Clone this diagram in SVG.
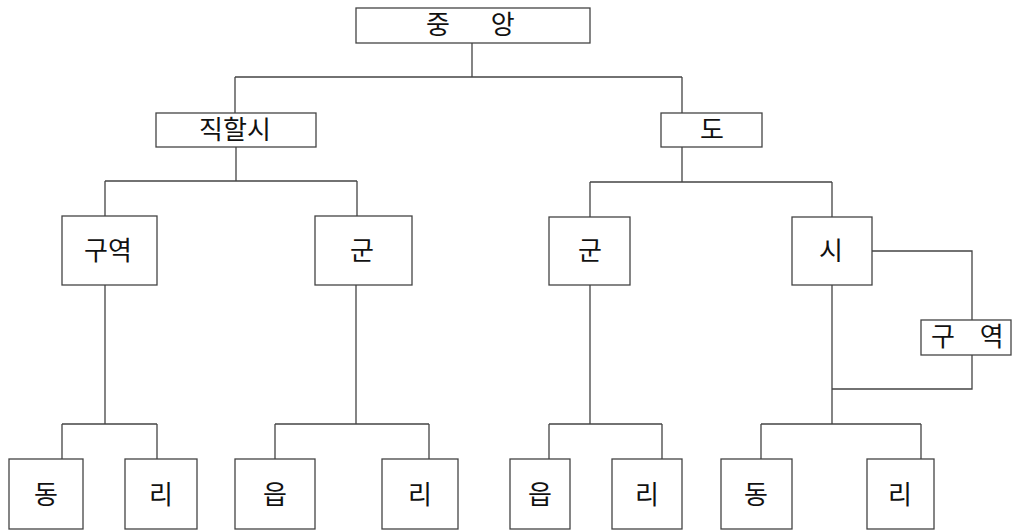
<svg xmlns="http://www.w3.org/2000/svg" width="1012" height="532" viewBox="0 0 1012 532">
<style>
.box{fill:#fff;stroke:#444;stroke-width:1.3}
.ln{fill:none;stroke:#444;stroke-width:1.3}
text{font-family:"Noto Sans CJK KR","Noto Sans",sans-serif;fill:#111;font-size:26px}
.c{text-anchor:middle}
</style>
<rect width="1012" height="532" fill="#fff"/>
<g id="connectors">
<path class="ln" d="M472,43V77M235,77H682M235,77V113M682,77V113"/>
<path class="ln" d="M236,147V181M105,181H357M105,181V216M357,181V216"/>
<path class="ln" d="M682,147V182M590,182H832M590,182V217M832,182V217"/>
<path class="ln" d="M105,285V424M62,424H157M62,424V459M157,424V459"/>
<path class="ln" d="M356,285V424M275,424H429M275,424V459M429,424V459"/>
<path class="ln" d="M590,285V424M549,424H662M549,424V459M662,424V459"/>
<path class="ln" d="M832,285V424M761,424H921M761,424V459M921,424V459"/>
<path class="ln" d="M872,251H972V320M972,355V389H832"/>
</g>
<g id="n-jungang"><rect class="box" x="356" y="8" width="234" height="35"/><text x="426" y="34" font-size="24" word-spacing="35">중 앙</text></g>
<g id="n-jikhalsi"><rect class="box" x="156" y="113" width="160" height="34"/><text class="c" x="235" y="139">직할시</text></g>
<g id="n-do"><rect class="box" x="661" y="113" width="101" height="34"/><text class="c" x="712" y="139">도</text></g>
<g id="n-guyeok1"><rect class="box" x="62" y="216" width="95" height="69"/><text class="c" x="108" y="260">구역</text></g>
<g id="n-gun1"><rect class="box" x="315" y="216" width="97" height="69"/><text class="c" x="362" y="260">군</text></g>
<g id="n-gun2"><rect class="box" x="549" y="217" width="81" height="68"/><text class="c" x="590" y="260">군</text></g>
<g id="n-si"><rect class="box" x="792" y="217" width="80" height="68"/><text class="c" x="831" y="260">시</text></g>
<g id="n-guyeok2"><rect class="box" x="921" y="320" width="90" height="35"/><text x="931" y="346" font-size="24" word-spacing="19">구 역</text></g>
<g id="n-dong1"><rect class="box" x="9" y="459" width="74" height="70"/><text class="c" x="46" y="504">동</text></g>
<g id="n-ri1"><rect class="box" x="125" y="459" width="72" height="70"/><text class="c" x="161" y="504">리</text></g>
<g id="n-eup1"><rect class="box" x="235" y="459" width="80" height="70"/><text class="c" x="275" y="504">읍</text></g>
<g id="n-ri2"><rect class="box" x="382" y="459" width="76" height="70"/><text class="c" x="420" y="504">리</text></g>
<g id="n-eup2"><rect class="box" x="510" y="459" width="60" height="70"/><text class="c" x="540" y="504">읍</text></g>
<g id="n-ri3"><rect class="box" x="612" y="459" width="70" height="70"/><text class="c" x="647" y="504">리</text></g>
<g id="n-dong2"><rect class="box" x="721" y="459" width="71" height="70"/><text class="c" x="756" y="504">동</text></g>
<g id="n-ri4"><rect class="box" x="867" y="459" width="67" height="70"/><text class="c" x="900" y="504">리</text></g>
</svg>
